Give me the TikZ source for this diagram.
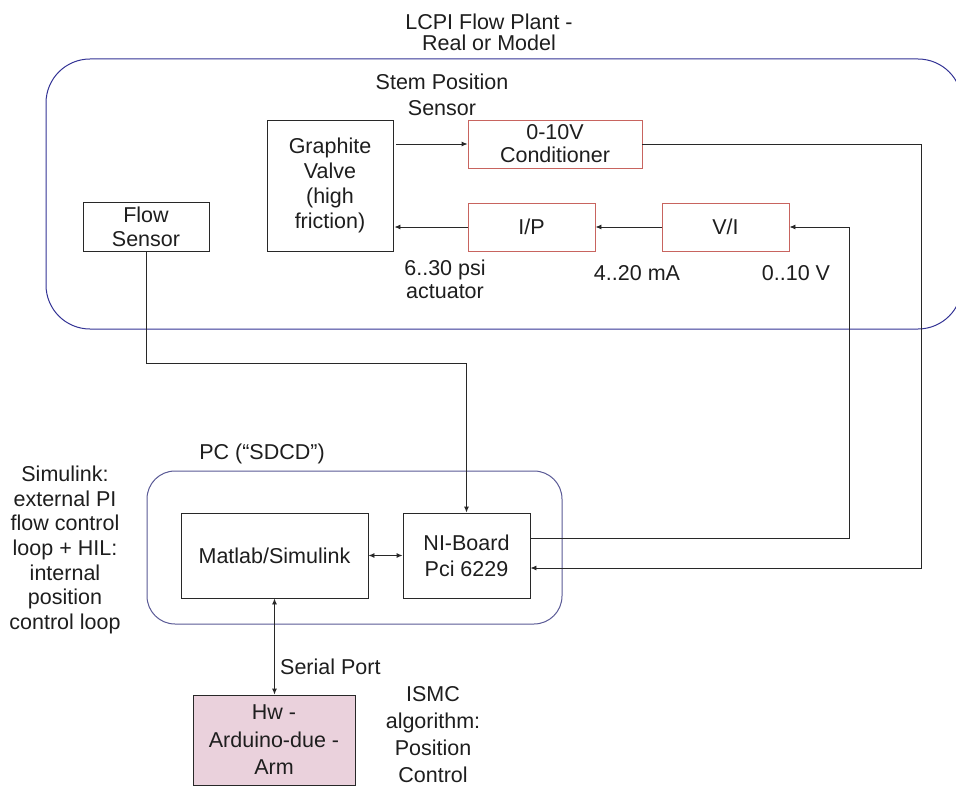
\documentclass[tikz,border=0pt]{standalone}
\usepackage{fontspec}
\setmainfont{Liberation Sans}
\usetikzlibrary{arrows.meta,calc}
\definecolor{plantblue}{RGB}{52,52,150}
\definecolor{pcblue}{RGB}{90,90,150}
\definecolor{redbox}{RGB}{200,100,95}
\definecolor{hwpink}{RGB}{234,209,220}
\definecolor{txt}{RGB}{30,30,30}
\definecolor{ln}{RGB}{40,40,40}
\begin{document}
\begin{tikzpicture}[x=1pt,y=-1pt,
  every node/.style={text=txt,font=\fontsize{21.5}{25}\selectfont,align=center,inner sep=0pt},
  blk/.style={draw=ln,line width=0.9pt},
  redblk/.style={draw=redbox,line width=0.9pt},
  arr/.style={draw=ln,line width=0.9pt,-{Latex[length=6pt,width=5pt]}},
  arrboth/.style={draw=ln,line width=0.9pt,{Latex[length=6pt,width=5pt]}-{Latex[length=6pt,width=5pt]}},
  plantframe/.style={draw=plantblue,line width=1pt,rounded corners=44pt},
  pcframe/.style={draw=pcblue,line width=1pt,rounded corners=28pt},
  ]
\useasboundingbox (0,0) rectangle (956,789);
\fill[white] (0,0) rectangle (956,789);

% containers
\draw[plantframe] (46,59) rectangle (962,329);
\draw[pcframe] (147,471) rectangle (562,624);

% titles and labels
\node[font=\fontsize{21.5}{21}\selectfont] (title) at (489,32) {LCPI Flow Plant -\\Real or Model};
\node[font=\fontsize{21.5}{26}\selectfont] (stem) at (442,95) {Stem Position\\Sensor};
\node[font=\fontsize{21.5}{23}\selectfont] (psi) at (445,279) {6..30 psi\\actuator};
\node (ma) at (637,273) {4..20 mA};
\node (vv) at (796,273) {0..10 V};
\node (pclab) at (262,454) {PC (“SDCD”)};
\node[font=\fontsize{21.5}{24.6}\selectfont] (simtxt) at (65,550) {Simulink:\\external PI\\flow control\\loop + HIL:\\internal\\position\\control loop};
\node[anchor=west] (serial) at (280,667) {Serial Port};
\node[font=\fontsize{21.5}{27}\selectfont] (ismc) at (433,735) {ISMC\\algorithm:\\Position\\Control};

% boxes
\node[blk,minimum width=126pt,minimum height=131pt,font=\fontsize{21.5}{25}\selectfont] (gv) at (330,185.5) {Graphite\\Valve\\(high\\friction)};
\node[redblk,minimum width=174pt,minimum height=48pt,font=\fontsize{21.5}{23}\selectfont] (cond) at (555,144) {0-10V\\Conditioner};
\node[redblk,minimum width=127pt,minimum height=48pt] (ip) at (531.5,227) {I/P};
\node[redblk,minimum width=127pt,minimum height=48pt] (vi) at (725.5,227) {V/I};
\node[blk,minimum width=126pt,minimum height=49pt,font=\fontsize{21.5}{24}\selectfont] (fs) at (146,226.5) {Flow\\Sensor};
\node[blk,minimum width=187pt,minimum height=85pt] (ml) at (274.5,555.5) {Matlab/Simulink};
\node[blk,minimum width=127pt,minimum height=85pt,font=\fontsize{21.5}{26}\selectfont] (ni) at (466.5,555.5) {NI-Board\\Pci 6229};
\node[blk,fill=hwpink,minimum width=162pt,minimum height=90pt,font=\fontsize{21.5}{27.5}\selectfont] (hw) at (274,740) {Hw -\\Arduino-due -\\Arm};

% routing points
\coordinate (c1) at (849,538);
\coordinate (c2) at (921,568);
\coordinate (c3) at (466.5,363);

% connectors
\draw[arr] ([xshift=3pt]gv.east |- cond.west) -- (cond.west);
\draw[arr] (ip.west) -- ([xshift=1pt]gv.east |- ip.west);
\draw[arr] (vi.west) -- (ip.east);
\draw[arr] (ni.east |- c1) -- (c1) |- (vi.east);
\draw[arr] (cond.east) -| (c2) -- (ni.east |- c2);
\draw[arr] (fs.south) |- (c3) -- (ni.north);
\draw[arrboth] (ml.east) -- (ni.west);
\draw[arrboth] (ml.south) -- (ml.south |- hw.north);
\end{tikzpicture}
\end{document}
